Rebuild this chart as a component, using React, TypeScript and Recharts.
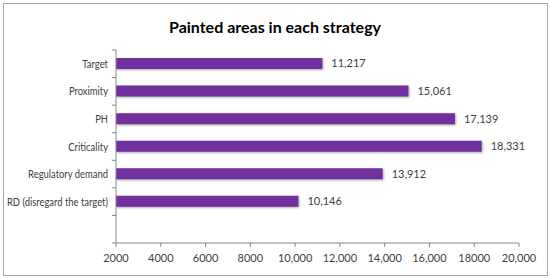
import { BarChart, Bar, XAxis, YAxis, LabelList } from "recharts";

const strategies = [
  "Target",
  "Proximity",
  "PH",
  "Criticality",
  "Regulatory demand",
  "RD (disregard the target)",
  "",
];
const paintedAreas = [11217, 15061, 17139, 18331, 13912, 10146, null];
const xTicks = [2000, 4000, 6000, 8000, 10000, 12000, 14000, 16000, 18000, 20000];
const xTickLabels = ["2000", "4000", "6000", "8000", "10,000", "12,000", "14,000", "16,000", "18000", "20,000"];

const data = strategies.map((name, i) => ({ name, value: paintedAreas[i] }));

const FONT = "Lato, 'Open Sans', sans-serif";
const AXIS = "#868686";
const TEXT = "#404040";

// category label plus an Excel-style tick on the band boundary
function StrategyTick(props: any) {
  const { x, y, payload, index } = props;
  const half = payload?.offset || 13.8;
  const lx = x + 4;
  return (
    <g>
      <line x1={lx} x2={lx + 4} y1={y - half} y2={y - half} stroke={AXIS} />
      {index === strategies.length - 1 && (
        <line x1={lx} x2={lx + 4} y1={y + half} y2={y + half} stroke={AXIS} />
      )}
      {/* Calibri-like narrow text: squeeze Lato horizontally */}
      <text
        transform={`translate(${x},${y}) scale(0.82,1)`}
        x={0}
        y={0}
        dy={4}
        textAnchor="end"
        fontSize={11.5}
        fill={TEXT}
        fontFamily={FONT}
      >
        {payload.value}
      </text>
    </g>
  );
}

export default function App() {
  return (
    <div style={{ position: "absolute", left: 0, top: 0, width: 550, height: 278, background: "#fff" }}>
      <div
        style={{
          position: "absolute",
          left: 3,
          top: 3,
          width: 543,
          height: 271,
          border: "1px solid #a6a6a6",
        }}
      />
      <div
        style={{
          position: "absolute",
          left: 0,
          top: 17,
          width: 550,
          textAlign: "center",
          fontFamily: FONT,
          fontWeight: 700,
          fontSize: 16,
          color: "#000",
        }}
      >
        Painted areas in each strategy
      </div>
      <div style={{ position: "absolute", left: 0, top: 0 }}>
        <BarChart
          width={550}
          height={278}
          data={data}
          layout="vertical"
          margin={{ top: 50, right: 31, bottom: 0, left: 0 }}
          barSize={11}
        >
          <XAxis
            type="number"
            domain={[2000, 20000]}
            ticks={xTicks}
            allowDataOverflow
            height={35}
            tickSize={4}
            tickMargin={7}
            stroke={AXIS}
            tickFormatter={(v: number) => xTickLabels[xTicks.indexOf(v)] ?? String(v)}
            tick={{ fill: TEXT, fontSize: 11, fontFamily: FONT }}
          />
          <YAxis
            type="category"
            dataKey="name"
            width={116}
            tickSize={4}
            tickMargin={4}
            tickLine={false}
            stroke={AXIS}
            tick={<StrategyTick />}
            interval={0}
          />
          <Bar
            dataKey="value"
            fill="#7030a0"
            isAnimationActive={false}
            style={{ filter: "drop-shadow(1px 1.5px 1px rgba(0,0,0,0.35))" }}
          >
            <LabelList
              dataKey="value"
              position="right"
              offset={9}
              fill={TEXT}
              fontSize={11}
              fontFamily={FONT}
              formatter={(v: any) => (v == null ? "" : Number(v).toLocaleString("en-US"))}
            />
          </Bar>
        </BarChart>
      </div>
    </div>
  );
}
